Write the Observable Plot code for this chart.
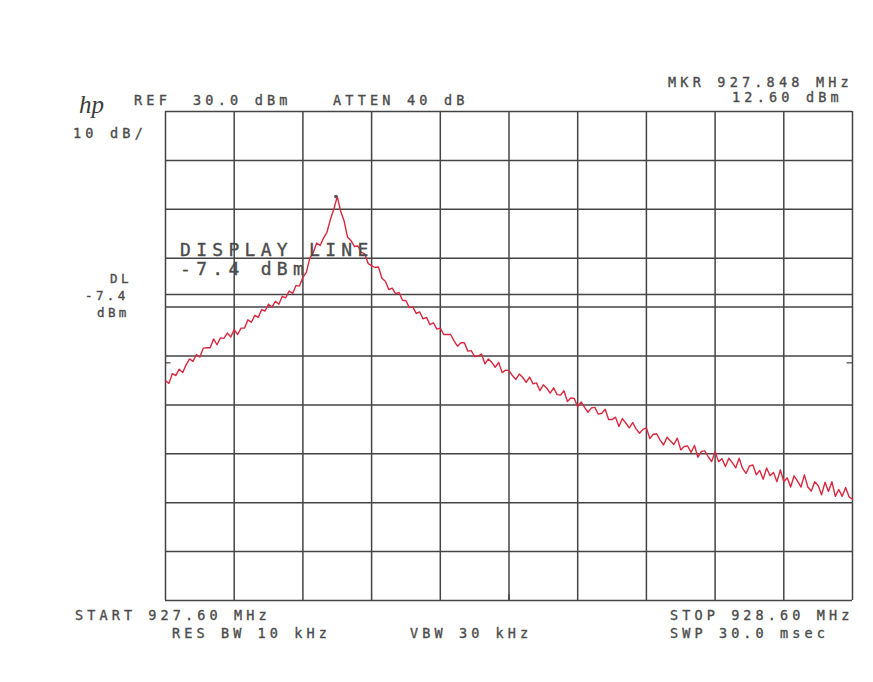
<!DOCTYPE html>
<html>
<head>
<meta charset="utf-8">
<script src="https://cdn.jsdelivr.net/npm/d3@7"></script>
<script src="https://cdn.jsdelivr.net/npm/@observablehq/plot@0.6"></script>
<style>
  html, body { margin: 0; padding: 0; background: #ffffff; }
  #chart svg { display: block; }
</style>
</head>
<body>
<div id="chart"></div>
<script>
// ---- Data (HP spectrum analyzer plot) ----
const startMHz = 927.60;
const stopMHz = 928.60;
const refDbm = 30;
const dbPerDiv = 10;
const displayLineDbm = -7.4;
const markerMHz = 927.848;
const markerDbm = 12.60;

// frequency grid lines (100 kHz / div) and amplitude grid lines (10 dB / div)
const xGrid = [927.6, 927.7, 927.8, 927.9, 928.0, 928.1, 928.2, 928.3, 928.4, 928.5, 928.6];
const yGrid = [-70, -60, -50, -40, -30, -20, -10, 0, 10, 20, 30];

// trace amplitude (dBm), sweep points evenly spaced from START to STOP
const traceDbm = [
  -25.1, -25.6, -23.6, -24.0, -22.7, -23.4, -21.8, -20.6, -21.1, -19.7,
  -20.2, -18.4, -18.3, -18.3, -16.5, -17.7, -16.3, -16.4, -15.3, -16.1,
  -14.6, -15.6, -14.3, -14.3, -12.6, -13.1, -11.7, -12.1, -10.5, -10.8,
  -9.4, -10.0, -8.8, -9.4, -7.8, -8.1, -6.7, -7.2, -5.6, -5.7,
  -3.9, -2.9, 0.0, 1.1, 3.1, 2.6, 4.1, 5.3, 7.9, 10.0,
  12.6, 9.6, 7.6, 4.3, 3.6, 2.4, 2.5, 1.2, 0.9, -1.1,
  -1.5, -1.9, -1.8, -4.1, -4.7, -6.4, -6.1, -7.3, -7.0, -8.6,
  -8.7, -10.1, -10.0, -11.3, -11.0, -12.4, -12.1, -13.6, -13.2, -14.5,
  -14.3, -15.6, -15.6, -15.6, -16.9, -18.0, -17.3, -17.3, -19.0, -18.9,
  -20.1, -20.0, -19.6, -21.6, -20.6, -21.3, -22.3, -21.3, -23.4, -22.9,
  -23.0, -24.0, -24.8, -23.7, -24.4, -25.4, -24.3, -25.7, -25.5, -27.1,
  -25.9, -26.6, -27.6, -26.5, -27.9, -28.0, -27.1, -29.3, -28.6, -28.7,
  -30.4, -29.4, -30.5, -31.5, -30.6, -30.5, -31.9, -31.7, -30.9, -33.0,
  -33.0, -32.5, -34.4, -32.8, -33.7, -34.7, -33.6, -34.9, -35.8, -35.0,
  -34.7, -36.9, -36.0, -35.9, -37.2, -38.2, -36.6, -37.4, -38.1, -36.8,
  -39.2, -38.5, -38.4, -39.7, -38.3, -40.7, -39.5, -39.4, -40.6, -41.6,
  -39.5, -41.6, -41.0, -42.6, -40.9, -41.8, -42.9, -40.9, -43.0, -44.0,
  -42.5, -42.3, -44.3, -43.4, -45.2, -42.9, -44.5, -43.8, -45.7, -43.3,
  -45.7, -44.9, -46.8, -44.5, -45.6, -46.8, -44.3, -46.8, -47.6, -45.7,
  -46.5, -48.4, -45.8, -47.7, -45.7, -48.7, -47.3, -48.7, -46.9, -48.8,
  -49.3
];

const stepMHz = (stopMHz - startMHz) / (traceDbm.length - 1);
const trace = traceDbm.map((db, i) => ({ f: startMHz + i * stepMHz, db }));

// annotation texts
const refLabel = "REF";
const refValue = "30.0 dBm";
const attenLabel = "ATTEN 40 dB";
const scaleLabel = "10 dB/";
const mkrFreqLabel = "MKR 927.848 MHz";
const mkrAmpLabel = "12.60 dBm";
const dlLabels = ["DL", "-7.4", "dBm"];
const displayLineLabels = ["DISPLAY LINE", "-7.4 dBm"];
const startLabel = "START 927.60 MHz";
const stopLabel = "STOP 928.60 MHz";
const rbwLabel = "RES BW 10 kHz";
const vbwLabel = "VBW 30 kHz";
const swpLabel = "SWP 30.0 msec";

const gridColor = "#444444";
const textColor = "#4c4c4c";
const mono = "'DejaVu Sans Mono', 'Liberation Mono', monospace";

const chart = Plot.plot({
  width: 873,
  height: 682,
  marginLeft: 165,
  marginRight: 21,
  marginTop: 111,
  marginBottom: 82,
  style: { background: "#ffffff", overflow: "visible" },
  x: { domain: [startMHz, stopMHz], axis: null },
  y: { domain: [refDbm - 10 * dbPerDiv, refDbm], axis: null },
  marks: [
    Plot.ruleX(xGrid, { stroke: gridColor, strokeWidth: 1.5 }),
    Plot.ruleY(yGrid, { stroke: gridColor, strokeWidth: 1.5 }),
    Plot.ruleY([displayLineDbm], { stroke: gridColor, strokeWidth: 1.5 }),
    // small edge ticks
    Plot.ruleY([-21.4], { x1: startMHz, x2: startMHz + 0.008, stroke: gridColor, strokeWidth: 1.2 }),
    Plot.ruleY([-21.4], { x1: stopMHz - 0.008, x2: stopMHz, stroke: gridColor, strokeWidth: 1.2 }),
    Plot.ruleX([928.1], { y1: -70, y2: -68.8, stroke: gridColor, strokeWidth: 1.6 }),
    Plot.line(trace, { x: "f", y: "db", stroke: "#d9283f", strokeWidth: 1.4, strokeLinejoin: "round" }),
    Plot.dot([{ f: markerMHz, db: markerDbm }], { x: "f", y: "db", r: 1.8, fill: "#555", stroke: "none" })
  ]
});

document.getElementById("chart").appendChild(chart);

// ---- plotter-style annotation text ----
const svg = d3.select(chart);
const g = svg.append("g")
  .attr("fill", textColor)
  .attr("stroke", textColor)
  .attr("stroke-width", 0.35)
  .attr("font-family", mono)
  .attr("text-anchor", "start");

function label(txt, x, y, size, spacing) {
  return g.append("text")
    .attr("x", x).attr("y", y)
    .attr("font-size", size)
    .attr("letter-spacing", spacing)
    .attr("text-anchor", "start")
    .style("white-space", "pre")
    .text(txt);
}

// hp logo
g.append("text")
  .attr("x", 79).attr("y", 113)
  .attr("font-family", "'Liberation Serif', 'DejaVu Serif', serif")
  .attr("font-style", "italic")
  .attr("font-size", 25)
  .attr("fill", "#3c3c3c")
  .attr("stroke", "none")
  .attr("text-anchor", "start")
  .text("hp");

label(refLabel, 134, 105, 13.5, 4.2);
label(refValue, 193, 105, 13.5, 4.2);
label(attenLabel, 333, 105, 13.5, 4.2);
label(scaleLabel, 73, 138, 13.5, 4.2);
label(mkrFreqLabel, 668, 87, 13.5, 4.2);
label(mkrAmpLabel, 732, 102, 13.5, 4.2);

label(dlLabels[0], 110, 283, 12.5, 3.4);
label(dlLabels[1], 85, 300, 12.5, 3.4);
label(dlLabels[2], 97, 317, 12.5, 3.4);

label(displayLineLabels[0], 180, 256, 18, 5.3);
label(displayLineLabels[1], 180, 275, 18, 5.3);

label(startLabel, 75, 620, 13.5, 4.1);
label(rbwLabel, 172, 638, 13.5, 4.1);
label(vbwLabel, 410, 638, 13.5, 4.1);
label(stopLabel, 670, 620, 13.5, 4.1);
label(swpLabel, 670, 638, 13.5, 4.1);
</script>
</body>
</html>
